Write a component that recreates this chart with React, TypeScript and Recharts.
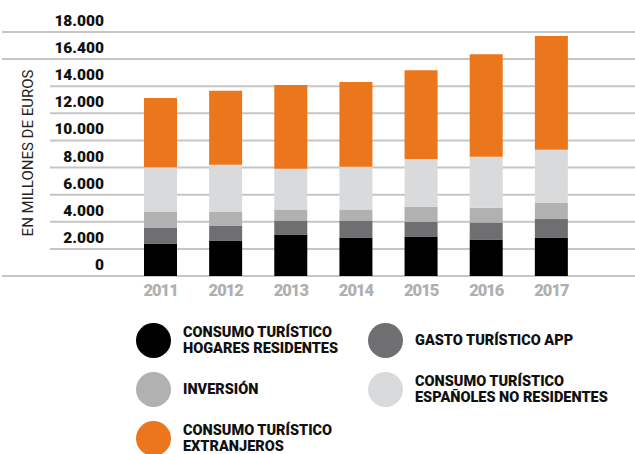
import { BarChart, Bar, XAxis, YAxis, CartesianGrid } from "recharts";

const years = ["2011", "2012", "2013", "2014", "2015", "2016", "2017"];
const hogares = [2400, 2620, 3060, 2840, 2910, 2690, 2840];
const gastoApp = [1180, 1100, 1030, 1250, 1100, 1250, 1400];
const inversion = [1180, 1030, 810, 810, 1100, 1100, 1180];
const espanoles = [3260, 3460, 3010, 3160, 3530, 3750, 3900];
const extranjeros = [5120, 5460, 6180, 6250, 6540, 7570, 8380];

const yTicks = [0, 2000, 4000, 6000, 8000, 10000, 12000, 14000, 16000, 18000];
const yTickLabels = ["0", "2.000", "4.000", "6.000", "8.000", "10.000", "12.000", "14.000", "16.400", "18.000"];

const series = [
  { key: "hogares", label: ["CONSUMO TURÍSTICO", "HOGARES RESIDENTES"], color: "#000000" },
  { key: "gastoApp", label: ["GASTO TURÍSTICO APP"], color: "#6f6f71" },
  { key: "inversion", label: ["INVERSIÓN"], color: "#b1b1b2" },
  { key: "espanoles", label: ["CONSUMO TURÍSTICO", "ESPAÑOLES NO RESIDENTES"], color: "#d9dadb" },
  { key: "extranjeros", label: ["CONSUMO TURÍSTICO", "EXTRANJEROS"], color: "#ec761b" },
];

const data = years.map((year, i) => ({
  year,
  hogares: hogares[i],
  gastoApp: gastoApp[i],
  inversion: inversion[i],
  espanoles: espanoles[i],
  extranjeros: extranjeros[i],
}));

const FONT = "Roboto, 'Liberation Sans', sans-serif";

// lines reaching the left edge: bottom and the two top ones
const gridLine = (props: any) => {
  const v = yTicks[props.index];
  const full = v === 0 || v >= 16000;
  return (
    <line
      key={props.key}
      x1={full ? 2 : 50}
      x2={635}
      y1={props.y1}
      y2={props.y2}
      stroke="#c6c6c6"
      strokeWidth={2}
    />
  );
};

const YTick = ({ y, payload }: any) => (
  <text
    x={104}
    y={y - 6}
    textAnchor="end"
    fontFamily={FONT}
    fontWeight={900}
    fontSize={15.5}
    fill="#111"
  >
    {yTickLabels[yTicks.indexOf(payload.value)]}
  </text>
);

export default function App() {
  return (
    <div style={{ position: "absolute", left: 0, top: 0, width: 635, height: 454, overflow: "hidden", background: "#fff" }}>
      <BarChart
        width={635}
        height={310}
        data={data}
        margin={{ top: 32, right: 0, bottom: 4, left: 0 }}
      >
        <CartesianGrid vertical={false} horizontal={gridLine} />
        <XAxis
          dataKey="year"
          axisLine={false}
          tickLine={false}
          padding={{ left: 128, right: 51 }}
          height={30}
          tick={{ fill: "#b0b0b0", fontFamily: FONT, fontWeight: 900, fontSize: 16.5, letterSpacing: -1 }}
        />
        <YAxis
          mirror
          domain={[0, 18000]}
          ticks={yTicks}
          axisLine={false}
          tickLine={false}
          tick={<YTick />}
        />
        {series.map((s) => (
          <Bar
            key={s.key}
            dataKey={s.key}
            stackId="a"
            fill={s.color}
            barSize={33}
            isAnimationActive={false}
          />
        ))}
      </BarChart>

      <div
        style={{
          position: "absolute",
          left: 28,
          top: 153,
          transform: "translate(-50%, -50%) rotate(-90deg)",
          whiteSpace: "nowrap",
          fontFamily: FONT,
          fontSize: 15,
          color: "#222",
        }}
      >
        EN MILLONES DE EUROS
      </div>

      <div
        style={{
          position: "absolute",
          left: 136,
          top: 316,
          display: "grid",
          gridTemplateColumns: "232px 232px",
          gridAutoRows: "49px",
          fontFamily: FONT,
          fontWeight: 900,
          fontSize: 14.5,
          lineHeight: "15.5px",
          color: "#111",
        }}
      >
        {series.map((s) => (
          <div key={s.key} style={{ display: "flex", alignItems: "center", gap: 12 }}>
            <div style={{ width: 35, height: 35, borderRadius: "50%", background: s.color, flexShrink: 0 }} />
            <div style={{ whiteSpace: "nowrap" }}>
              {s.label.map((l) => (
                <div key={l}>{l}</div>
              ))}
            </div>
          </div>
        ))}
      </div>
    </div>
  );
}
